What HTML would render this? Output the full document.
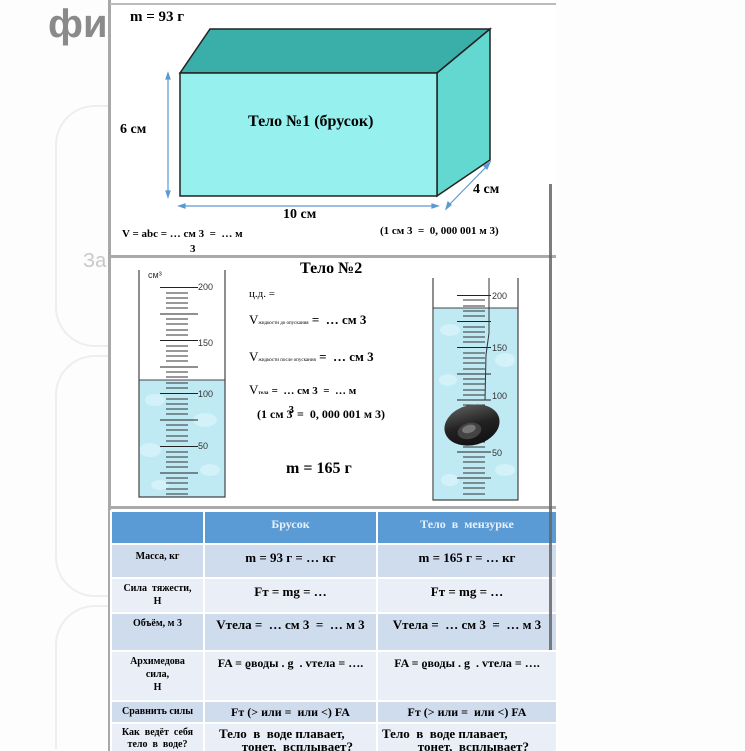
<!DOCTYPE html>
<html style="overflow:hidden;height:751px"><head><meta charset="utf-8"><style>
body{margin:0;width:745px;height:751px;background:#fdfdfd;overflow:hidden;position:relative;font-family:"Liberation Serif","DejaVu Serif",serif}
.a{position:absolute;white-space:nowrap}
.b{font-weight:bold}
table{position:absolute;left:110px;top:510px;width:446px;border-collapse:collapse;table-layout:fixed;font-weight:bold;font-size:13px}
td{border:2px solid #fff;text-align:center;vertical-align:top;padding:3px 2px 0;line-height:14px}
</style></head><body>
<div class="a b" style="left:48px;top:2px;font-family:'Liberation Sans',sans-serif;font-size:40px;color:#8a8a8a">фи</div>
<div style="position:absolute;left:55px;top:105px;width:120px;height:238px;border:2px solid #eee;border-radius:40px"></div>
<div style="position:absolute;left:55px;top:355px;width:120px;height:238px;border:2px solid #eee;border-radius:40px"></div>
<div style="position:absolute;left:55px;top:605px;width:120px;height:142px;border:2px solid #eee;border-bottom:none;border-radius:40px 40px 0 0"></div>
<div class="a" style="left:83px;top:250px;font-family:'Liberation Sans',sans-serif;font-size:20px;color:#c8c8c8">За</div>
<div style="position:absolute;left:110px;top:0;width:446px;height:751px;background:#fff"></div>
<div style="position:absolute;left:108px;top:0;width:3px;height:751px;background:#a8a8a8"></div>
<div style="position:absolute;left:110px;top:3px;width:446px;height:2px;background:#bbb"></div>
<div style="position:absolute;left:110px;top:255px;width:446px;height:3px;background:#aaa"></div>
<div style="position:absolute;left:110px;top:506px;width:446px;height:3px;background:#aaa"></div>
<svg style="position:absolute;left:0;top:0" width="745" height="751">
<defs>
<linearGradient id="obj" x1="0" y1="0" x2="0" y2="1"><stop offset="0" stop-color="#555"/><stop offset="0.5" stop-color="#222"/><stop offset="1" stop-color="#111"/></linearGradient>
</defs>
<polygon points="180,73 210,29 490,29 437,73" fill="#3aaea8" stroke="#222" stroke-width="1.5"/>
<polygon points="437,73 490,29 490,160 437,196" fill="#63d8d0" stroke="#222" stroke-width="1.5"/>
<rect x="180" y="73" width="257" height="123" fill="#96f0ee" stroke="#222" stroke-width="1.5"/>
<g stroke="#5a9ad0" stroke-width="1.2" fill="#5a9ad0">
<line x1="168" y1="77" x2="168" y2="194"/><polygon points="168,73 166,79 170,79"/><polygon points="168,197 166,191 170,191"/>
<line x1="182" y1="206" x2="435" y2="206"/><polygon points="179,206 185,204 185,208"/><polygon points="438,206 432,204 432,208"/>
<line x1="448" y1="206" x2="488" y2="165"/><polygon points="446,209 448,202 451,205"/><polygon points="490,162 484,166 487,169"/>
</g>
<rect x="139" y="380" width="86" height="117" fill="#bfe9f3"/>
<g fill="#d9f4fa" opacity=".8"><ellipse cx="155" cy="400" rx="10" ry="6"/><ellipse cx="205" cy="420" rx="12" ry="7"/><ellipse cx="150" cy="450" rx="11" ry="7"/><ellipse cx="210" cy="470" rx="10" ry="6"/><ellipse cx="160" cy="485" rx="9" ry="5"/></g>
<polyline points="139,270 139,497 225,497 225,270" fill="none" stroke="#444" stroke-width="1.2"/>
<line x1="139" y1="380" x2="225" y2="380" stroke="#444"/>
<g stroke="#222" stroke-width="1">
<line x1="160" y1="287.5" x2="198" y2="287.5"/><line x1="160" y1="314" x2="198" y2="314"/><line x1="160" y1="340.5" x2="198" y2="340.5"/><line x1="160" y1="367" x2="198" y2="367"/><line x1="160" y1="393.5" x2="198" y2="393.5"/><line x1="160" y1="420" x2="198" y2="420"/><line x1="160" y1="446.5" x2="198" y2="446.5"/><line x1="160" y1="473" x2="198" y2="473"/>
</g>
<g stroke="#333" stroke-width="1">
<path d="M166 293h22M166 298h22M166 303h22M166 308h22M166 319h22M166 324h22M166 330h22M166 335h22M166 346h22M166 351h22M166 356h22M166 361h22M166 372h22M166 377h22M166 383h22M166 388h22M166 399h22M166 404h22M166 409h22M166 414h22M166 425h22M166 430h22M166 436h22M166 441h22M166 452h22M166 457h22M166 462h22M166 467h22M166 478h22M166 483h22M166 489h22M166 494h22"/>
</g>
<g font-family="Liberation Sans,sans-serif" font-size="9" fill="#333">
<text x="148" y="278">см³</text><text x="198" y="290">200</text><text x="198" y="346">150</text><text x="198" y="397">100</text><text x="198" y="449">50</text>
</g>
<rect x="434" y="308" width="84" height="192" fill="#bfe9f3"/>
<g fill="#d9f4fa" opacity=".8"><ellipse cx="450" cy="330" rx="10" ry="6"/><ellipse cx="505" cy="360" rx="10" ry="7"/><ellipse cx="448" cy="380" rx="9" ry="6"/><ellipse cx="505" cy="470" rx="10" ry="6"/><ellipse cx="450" cy="480" rx="9" ry="6"/></g>
<polyline points="433,278 433,500 518,500 518,278" fill="none" stroke="#444" stroke-width="1.2"/>
<line x1="433" y1="308" x2="518" y2="308" stroke="#444"/>
<g stroke="#222">
<path d="M457 295.5h34M457 321.5h34M457 347.5h34M457 374h34M457 400h34M457 426h34M457 452h34M457 478h34"/>
</g>
<g stroke="#333">
<path d="M463 300h22M463 306h22M463 311h22M463 316h22M463 327h22M463 332h22M463 337h22M463 342h22M463 353h22M463 358h22M463 363h22M463 369h22M463 379h22M463 384h22M463 390h22M463 395h22M463 405h22M463 410h22M463 416h22M463 421h22M463 431h22M463 436h22M463 442h22M463 447h22M463 457h22M463 462h22M463 468h22M463 473h22M463 483h22M463 488h22M463 494h22"/>
</g>
<path d="M489 278 L489 333 L486 355 L485 400" fill="none" stroke="#333"/>
<g font-family="Liberation Sans,sans-serif" font-size="9" fill="#333">
<text x="492" y="299">200</text><text x="492" y="351">150</text><text x="492" y="399">100</text><text x="492" y="456">50</text>
</g>
<g transform="rotate(-15 472 425)">
<ellipse cx="472" cy="425" rx="28" ry="20" fill="url(#obj)"/>
<ellipse cx="468" cy="430" rx="12" ry="8" fill="#444"/>
<ellipse cx="468" cy="428" rx="7" ry="4" fill="#777"/>
</g>
</svg>
<div class="a b" style="left:130px;top:9px;font-size:15px">m = 93 г</div>
<div class="a b" style="left:248px;top:113px;font-size:16px">Тело №1 (брусок)</div>
<div class="a b" style="left:120px;top:122px;font-size:14px">6 см</div>
<div class="a b" style="left:283px;top:207px;font-size:14px">10 см</div>
<div class="a b" style="left:473px;top:182px;font-size:14px">4 см</div>
<div class="a b" style="left:122px;top:228px;font-size:11px">V = abc = … см 3 &nbsp;= &nbsp;… м</div>
<div class="a b" style="left:190px;top:243px;font-size:11px">3</div>
<div class="a b" style="left:380px;top:225px;font-size:11px">(1 см 3 &nbsp;= &nbsp;0, 000 001 м 3)</div>
<div class="a b" style="left:300px;top:260px;font-size:16px">Тело №2</div>
<div class="a" style="left:249px;top:288px;font-size:11px">ц.д. =</div>
<div class="a" style="left:249px;top:312px;font-size:13px">V<span style="font-size:5px">жидкости до опускания</span> <b>= &nbsp;… см 3</b></div>
<div class="a" style="left:249px;top:349px;font-size:13px">V<span style="font-size:5px">жидкости после опускания</span> <b>= &nbsp;… см 3</b></div>
<div class="a" style="left:249px;top:382px;font-size:13px">V<span style="font-size:5px;font-weight:bold">тела</span> <b style="font-size:11px">= &nbsp;… см 3 &nbsp;= &nbsp;… м</b></div>
<div class="a b" style="left:257px;top:404px;font-size:12px">(1 см 3<sup style="font-size:11px;margin-left:-4px">3</sup> = &nbsp;0, 000 001 м 3)</div>
<div class="a b" style="left:286px;top:460px;font-size:16px">m = 165 г</div>
<div style="position:absolute;left:0;top:0;width:745px;height:751px;overflow:hidden">
<table>
<colgroup><col style="width:93px"><col style="width:173px"><col style="width:180px"></colgroup>
<tr style="height:33px;background:#5b9bd5;color:#e8f0fa"><td style="font-size:12px;padding-top:5px"></td><td style="font-size:12px;padding-top:5px">Брусок</td><td style="font-size:12px;padding-top:5px">Тело &nbsp;в &nbsp;мензурке</td></tr>
<tr style="height:34px;background:#cfdcee"><td style="font-size:10px;padding-top:5px">Масса, кг</td><td style="padding-top:6px">m = 93 г = … кг</td><td style="padding-top:6px">m = 165 г = … кг</td></tr>
<tr style="height:35px;background:#e9eef7"><td style="font-size:10px;line-height:13px">Сила &nbsp;тяжести,<br>Н</td><td style="padding-top:6px">Fт = mg = …</td><td style="padding-top:6px">Fт = mg = …</td></tr>
<tr style="height:38px;background:#cfdcee"><td style="font-size:10px">Объём, м 3</td><td style="padding-top:4px">Vтела = &nbsp;… см 3 &nbsp;= &nbsp;… м 3</td><td style="padding-top:4px">Vтела = &nbsp;… см 3 &nbsp;= &nbsp;… м 3</td></tr>
<tr style="height:50px;background:#e9eef7"><td style="font-size:10px;line-height:13px">Архимедова<br>сила,<br>Н</td><td style="padding-top:4px;font-size:12px">FA = ϱводы . g &nbsp;. vтела = ….</td><td style="padding-top:4px;font-size:12px">FA = ϱводы . g &nbsp;. vтела = ….</td></tr>
<tr style="height:22px;background:#cfdcee"><td style="font-size:10px">Сравнить силы</td><td style="font-size:12px">Fт (&gt; или = &nbsp;или &lt;) FA</td><td style="font-size:12px">Fт (&gt; или = &nbsp;или &lt;) FA</td></tr>
<tr style="height:28px;background:#e9eef7"><td style="font-size:10px;line-height:12px">Как &nbsp;ведёт &nbsp;себя<br>тело &nbsp;в &nbsp;воде?</td><td style="text-align:left;padding-left:14px;line-height:13px">Тело &nbsp;в &nbsp;воде плавает,<br>&nbsp;&nbsp;&nbsp;&nbsp;&nbsp;&nbsp;&nbsp;тонет, &nbsp;всплывает?</td><td style="text-align:left;padding-left:4px;line-height:13px">Тело &nbsp;в &nbsp;воде плавает,<br>&nbsp;&nbsp;&nbsp;&nbsp;&nbsp;&nbsp;&nbsp;&nbsp;&nbsp;&nbsp;&nbsp;тонет, &nbsp;всплывает?</td></tr>
</table>
</div>
<div style="position:absolute;left:549px;top:184px;width:3px;height:466px;background:#666;opacity:.85"></div>
</body></html>
